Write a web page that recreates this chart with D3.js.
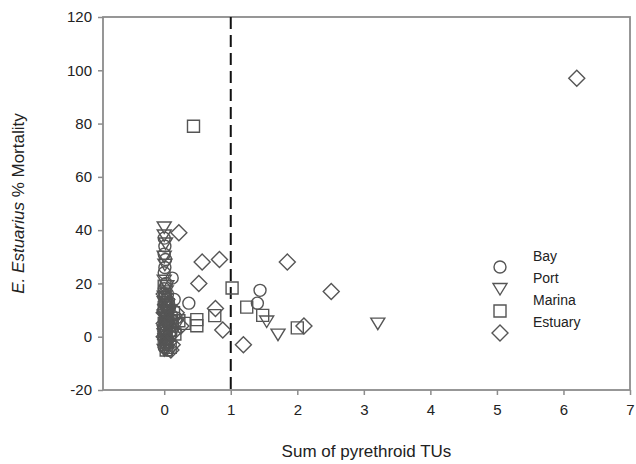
<!DOCTYPE html>
<html>
<head>
<meta charset="utf-8">
<script src="https://cdn.jsdelivr.net/npm/d3@7"></script>
<style>
  body { margin: 0; background: #fff; }
  svg { font-family: "Liberation Sans", Arial, sans-serif; }
</style>
</head>
<body>
<div id="chart"></div>
<script>
// data: [sum of pyrethroid TUs, % mortality]
var bay = [[0.00,37],[0.01,34],[0.00,31],[0.02,29],[0.01,26],[0.00,24],[0.12,22],[0.03,20],[0.00,18],
  [0.05,16],[0.15,14],[0.02,13],[0.37,12.6],[0.08,11],[0.00,10],[0.04,8],[0.18,7],[0.01,6],[0.06,5],
  [0.00,3],[0.03,2],[0.10,1],[0.00,0],[0.05,-1],[0.02,-2],[0.00,-4],[1.44,17.4],[1.40,12.6],
  [0.01,15],[0.07,12],[0.02,9],[0.09,4],[0.03,-3],[0.00,1.5],[0.06,-5],[0.11,8]];
var port = [[0.00,41],[0.00,38],[0.02,35],[0.00,30],[0.01,27],[0.00,21],[0.03,17],[0.00,15],[0.02,12],
  [0.06,9],[0.00,7],[0.04,4],[0.00,2],[0.01,-1],[0.03,-3],[0.00,-5],[0.20,5],[1.54,5.7],[1.71,0.8],
  [3.21,4.9],[0.02,10],[0.05,6],[0.01,0],[0.08,-2],[0.00,13],[0.04,19]];
var marina = [[0.44,79],[0.00,19],[0.02,14],[0.00,11],[0.05,8],[0.10,6],[0.00,5],[0.03,3],[0.08,1],
  [0.00,-1],[0.04,-2],[0.12,4],[0.22,6],[0.30,5],[0.49,6.4],[0.49,4.1],[0.76,7.9],[1.02,18.3],
  [1.24,11.1],[1.48,8.0],[2.00,3.3],[0.01,16],[0.06,12],[0.02,7],[0.00,2],[0.09,-4],[0.14,9],
  [0.03,-5],[0.16,1]];
var estuary = [[0.22,39],[0.57,28],[0.83,29],[0.52,20],[0.77,10.6],[0.88,2.5],[1.19,-3],[1.85,28],
  [2.51,17],[2.10,4],[6.20,97],[0.00,16],[0.02,12],[0.00,9],[0.05,6],[0.01,3],[0.00,0],[0.07,-2],
  [0.03,-4],[0.10,-5],[0.15,2],[0.25,4],[0.18,9],[0.04,14],[0.01,10],[0.08,7],[0.02,-1],[0.12,-3],
  [0.00,5],[0.06,1]];
var seriesNames = ["Bay", "Port", "Marina", "Estuary"];
var xTicks = [0, 1, 2, 3, 4, 5, 6, 7];
var yTicks = [-20, 0, 20, 40, 60, 80, 100, 120];
var threshold = 1;

var width = 636, height = 464;
var margin = {top: 17, right: 6, bottom: 74, left: 103};
var frameColor = "#8c8c8c", markColor = "#555";

var svg = d3.select("#chart").append("svg").attr("width", width).attr("height", height);

var x = d3.scaleLinear().domain([-0.92, 7]).range([margin.left, width - margin.right]);
var y = d3.scaleLinear().domain([-20, 120]).range([height - margin.bottom, margin.top]);

// marker shapes
function shape(type, cx, cy) {
  if (type == "Bay") {
    var r = 6;
    return "M" + (cx - r) + "," + cy + "a" + r + "," + r + " 0 1,0 " + (2 * r) + ",0a" + r + "," + r + " 0 1,0 " + (-2 * r) + ",0Z";
  }
  if (type == "Port") {
    return "M" + (cx - 7) + "," + (cy - 5.5) + "L" + (cx + 7) + "," + (cy - 5.5) + "L" + cx + "," + (cy + 6) + "Z";
  }
  if (type == "Marina") {
    return "M" + (cx - 6) + "," + (cy - 6) + "h12v12h-12Z";
  }
  return "M" + cx + "," + (cy - 8) + "L" + (cx + 8) + "," + cy + "L" + cx + "," + (cy + 8) + "L" + (cx - 8) + "," + cy + "Z";
}

// frame
svg.append("rect")
  .attr("x", x.range()[0]).attr("y", y.range()[1])
  .attr("width", x.range()[1] - x.range()[0]).attr("height", y.range()[0] - y.range()[1])
  .attr("fill", "none").attr("stroke", frameColor).attr("stroke-width", 1.8);

// y axis
var yAxis = svg.append("g").attr("transform", "translate(" + margin.left + ",0)")
  .call(d3.axisLeft(y).tickValues(yTicks).tickSize(5).tickPadding(6).tickFormat(function (d) { return String(d); }));
yAxis.select(".domain").remove();
yAxis.selectAll(".tick line").attr("stroke", frameColor).attr("stroke-width", 1.5);
yAxis.selectAll(".tick text").attr("fill", "#222").style("font-size", "15px");

// x axis
var xAxis = svg.append("g").attr("transform", "translate(0," + y(-20) + ")")
  .call(d3.axisBottom(x).tickValues(xTicks).tickSize(5).tickPadding(9));
xAxis.select(".domain").remove();
xAxis.selectAll(".tick line").attr("stroke", frameColor).attr("stroke-width", 1.5);
xAxis.selectAll(".tick text").attr("fill", "#222").style("font-size", "15px");

// threshold line
svg.append("line")
  .attr("x1", x(threshold)).attr("x2", x(threshold))
  .attr("y1", y(120)).attr("y2", y(-20))
  .attr("stroke", "#111").attr("stroke-width", 2).attr("stroke-dasharray", "12,6");

// points
var allSeries = [bay, port, marina, estuary];
allSeries.forEach(function (data, i) {
  svg.append("g").selectAll("path").data(data).join("path")
    .attr("d", function (d) { return shape(seriesNames[i], x(d[0]), y(d[1])); })
    .attr("fill", "none").attr("stroke", markColor).attr("stroke-width", 1.4);
});

// legend
var legend = svg.append("g").attr("transform", "translate(500,256)");
seriesNames.forEach(function (name, i) {
  legend.append("path").attr("d", shape(name, 0, 11 + i * 22))
    .attr("fill", "none").attr("stroke", markColor).attr("stroke-width", 1.4);
  legend.append("text").attr("x", 33).attr("y", i * 22 + 5)
    .attr("fill", "#222").style("font-size", "14px").text(name);
});

// axis labels
svg.append("text").attr("x", (x.range()[0] + x.range()[1]) / 2).attr("y", 457)
  .attr("text-anchor", "middle").attr("fill", "#222").style("font-size", "17px")
  .text("Sum of pyrethroid TUs");
var yl = svg.append("text").attr("transform", "translate(24," + ((y.range()[0] + y.range()[1]) / 2) + ") rotate(-90)")
  .attr("text-anchor", "middle").attr("fill", "#222").style("font-size", "17px");
yl.append("tspan").style("font-style", "italic").text("E. Estuarius");
yl.append("tspan").text(" % Mortality");
</script>
</body>
</html>
